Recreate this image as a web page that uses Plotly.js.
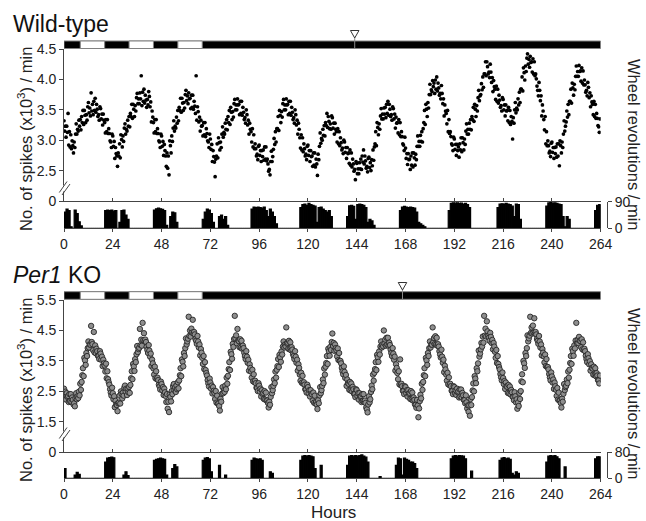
<!DOCTYPE html>
<html><head><meta charset="utf-8">
<script src="https://cdn.plot.ly/plotly-3.0.1.min.js"></script>
<style>html,body{margin:0;padding:0;background:#fff}#chart{width:646px;height:521px}</style>
</head><body><div id="chart"></div>
<script>
// ---------- data ----------
const hourTicks = [0,24,48,72,96,120,144,168,192,216,240,264];
const lightOnPeriods = [[8,20],[32,44],[56,68]];
const wtShiftHour = 143;
const koShiftHour = 166.5;

// spikes (x10^3 / min), three samples per hour (every 20 min)
const wtSpikes = [
3.32,3.15,3.23, 3.05,3.23,3.13, 3.44,2.92,3.14, 2.89,3.09,2.86,
2.99,2.91,2.79, 2.97,2.88,3.10, 3.27,3.10,3.18, 3.15,3.33,3.23,
3.34,3.17,3.39, 3.29,3.49,3.26, 3.49,3.41,3.29, 3.42,3.33,3.55,
3.62,3.45,3.53, 3.40,3.78,3.48, 3.59,3.42,3.64, 3.49,3.69,3.46,
3.59,3.51,3.39, 3.42,3.33,3.55, 3.52,3.35,3.43, 3.25,3.43,3.33,
3.29,3.12,3.34, 3.14,3.34,3.11, 3.19,3.11,2.99, 2.97,2.88,3.10,
3.07,2.90,2.98, 2.70,2.88,2.78, 2.74,2.57,2.79, 2.74,2.94,2.71,
3.09,3.01,2.89, 3.07,2.98,3.20, 3.27,3.10,3.18, 3.15,3.33,3.23,
3.39,3.22,3.44, 3.39,3.59,3.36, 3.59,3.51,3.39, 3.57,3.48,3.70,
3.77,3.60,3.68, 3.60,3.78,3.68, 4.06,3.57,3.79, 3.64,3.84,3.61,
3.74,3.66,3.54, 3.67,3.58,3.80, 3.72,3.55,3.63, 3.30,3.48,3.38,
3.29,3.12,3.34, 3.14,3.34,3.11, 3.19,3.11,2.99, 2.97,2.88,3.10,
3.07,2.90,2.98, 2.75,2.93,2.83, 2.74,2.57,2.79, 2.54,2.74,2.43,
2.99,2.91,2.79, 3.07,2.98,3.20, 3.32,3.15,3.23, 3.20,3.38,3.28,
3.49,3.32,3.54, 3.49,3.69,3.46, 3.69,3.61,3.49, 3.62,3.53,3.75,
3.82,3.65,3.73, 3.60,3.78,3.68, 3.69,3.52,3.74, 3.54,3.74,3.51,
3.64,3.56,3.44, 4.06,3.33,3.55, 3.47,3.30,3.38, 3.15,3.33,3.23,
3.24,3.07,3.29, 3.09,3.29,3.06, 3.19,3.11,2.99, 2.97,2.88,3.10,
3.02,2.85,2.93, 2.65,2.83,2.73, 2.64,2.40,2.69, 2.74,2.94,2.71,
3.04,2.96,2.84, 2.97,2.88,3.10, 3.22,3.05,3.13, 3.10,3.28,3.18,
3.34,3.17,3.39, 3.29,3.49,3.26, 3.54,3.46,3.34, 3.47,3.38,3.60,
3.67,3.50,3.58, 3.50,3.68,3.58, 3.59,3.42,3.64, 3.44,3.64,3.41,
3.54,3.46,3.34, 3.37,3.28,3.50, 3.42,3.25,3.33, 3.10,3.28,3.18,
3.14,2.97,3.19, 2.89,3.09,2.86, 2.94,2.86,2.74, 2.77,2.68,2.90,
2.92,2.75,2.83, 2.65,2.83,2.73, 2.84,2.67,2.89, 2.69,2.89,2.66,
2.69,2.61,2.49, 2.52,2.43,2.65, 2.82,2.65,2.73, 2.85,3.03,2.93,
3.14,2.97,3.19, 3.19,3.39,3.16, 3.49,3.41,3.29, 3.47,3.38,3.60,
3.67,3.50,3.58, 3.50,3.68,3.58, 3.59,3.42,3.64, 3.44,3.64,3.41,
3.54,3.46,3.34, 3.37,3.28,3.50, 3.42,3.25,3.33, 3.10,3.28,3.18,
3.04,2.87,3.09, 2.84,3.04,2.81, 2.94,2.86,2.74, 2.77,2.68,2.90,
2.92,2.75,2.83, 2.65,2.83,2.73, 2.74,2.57,2.79, 2.59,2.79,2.56,
2.69,2.61,2.42, 2.77,2.68,2.90, 3.12,2.95,3.03, 3.00,3.18,3.08,
3.24,3.07,3.29, 3.24,3.44,3.21, 3.39,3.31,3.19, 3.27,3.18,3.40,
3.37,3.20,3.28, 3.10,3.28,3.18, 3.14,2.97,3.19, 2.94,3.14,2.91,
3.04,2.96,2.84, 2.87,2.78,3.00, 2.97,2.80,2.88, 2.70,2.88,2.78,
2.79,2.62,2.84, 2.59,2.79,2.56, 2.69,2.61,2.49, 2.52,2.35,2.65,
2.62,2.45,2.53, 2.45,2.63,2.53, 2.69,2.52,2.74, 2.64,2.84,2.61,
2.74,2.66,2.54, 2.57,2.48,2.70, 2.72,2.55,2.63, 2.50,2.68,2.58,
2.84,2.67,2.89, 2.94,3.14,2.91, 3.29,3.21,3.09, 3.27,3.18,3.40,
3.52,3.35,3.43, 3.35,3.53,3.43, 3.54,3.37,3.59, 3.44,3.64,3.41,
3.59,3.51,3.39, 3.42,3.33,3.55, 3.52,3.35,3.43, 3.20,3.38,3.28,
3.29,3.12,3.34, 3.09,3.29,3.06, 3.14,3.06,2.94, 2.92,2.83,3.05,
2.87,2.70,2.78, 2.60,2.78,2.68, 2.69,2.52,2.74, 2.59,2.79,2.56,
2.79,2.71,2.59, 2.77,2.68,2.90, 3.07,2.90,2.98, 2.90,3.08,2.98,
3.14,2.97,3.19, 3.29,3.49,3.26, 3.59,3.51,3.39, 3.62,3.53,3.75,
3.92,3.75,3.83, 3.80,3.98,3.88, 3.94,3.77,3.99, 3.84,4.04,3.81,
3.94,3.86,3.74, 3.77,3.68,3.90, 3.77,3.60,3.68, 3.40,3.58,3.48,
3.44,3.27,3.49, 3.14,3.34,3.11, 3.14,3.06,2.94, 2.92,2.83,3.05,
3.02,2.85,2.93, 2.75,2.93,2.83, 2.89,2.72,2.94, 2.84,3.04,2.81,
3.04,2.96,2.84, 3.02,2.93,3.15, 3.27,3.10,3.18, 3.10,3.28,3.18,
3.34,3.17,3.39, 3.34,3.54,3.31, 3.59,3.51,3.39, 3.57,3.48,3.70,
3.82,3.65,3.73, 3.75,3.93,3.83, 4.04,3.87,4.09, 4.09,4.29,4.06,
4.29,4.21,4.09, 4.12,4.03,4.25, 4.12,3.95,4.03, 3.80,3.98,3.88,
3.84,3.67,3.89, 3.64,3.84,3.61, 3.74,3.66,3.54, 3.57,3.48,3.70,
3.67,3.50,3.58, 3.40,3.58,3.48, 3.49,3.32,3.54, 3.29,3.49,3.26,
3.39,3.31,3.02, 3.37,3.28,3.50, 3.62,3.45,3.53, 3.50,3.68,3.58,
3.79,3.62,3.84, 3.84,4.04,3.81, 4.19,4.11,3.99, 4.22,4.13,4.35,
4.42,4.25,4.33, 4.20,4.38,4.28, 4.29,4.12,4.34, 4.09,4.29,4.06,
4.09,4.01,3.89, 3.82,3.73,3.95, 3.82,3.65,3.73, 3.40,3.58,3.48,
3.34,3.17,3.39, 2.94,3.14,2.91, 2.99,2.91,2.79, 2.82,2.73,2.95,
2.97,2.80,2.88, 2.70,2.88,2.78, 2.89,2.72,2.94, 2.74,2.94,2.58,
2.99,2.91,2.79, 2.97,2.88,3.10, 3.32,3.15,3.23, 3.30,3.48,3.38,
3.59,3.42,3.64, 3.64,3.84,3.61, 3.94,3.86,3.74, 3.92,3.83,4.05,
4.22,4.05,4.13, 4.05,4.23,4.13, 4.14,3.97,4.19, 3.94,4.14,3.91,
3.99,3.91,3.79, 3.82,3.73,3.95, 3.87,3.70,3.78, 3.55,3.73,3.63,
3.59,3.42,3.64, 3.39,3.59,3.36, 3.44,3.36,3.24, 3.22,3.13,3.35
];

const koSpikes = [
2.59,2.39,2.49, 2.23,2.44,2.32, 2.35,2.15,2.41, 2.18,2.41,2.15,
2.30,2.22,2.07, 2.11,2.01,2.27, 2.44,2.24,2.34, 2.28,2.49,2.37,
2.75,2.55,2.81, 3.03,3.26,3.00, 3.60,3.52,3.37, 3.76,3.66,3.92,
4.14,3.94,4.04, 4.03,4.65,4.12, 4.05,3.85,4.45, 3.78,4.01,3.75,
3.90,3.82,3.67, 3.66,3.56,3.82, 3.74,3.54,3.64, 3.33,3.54,3.42,
3.35,3.15,3.41, 2.93,3.16,2.90, 2.80,2.72,2.57, 2.46,2.36,2.62,
2.44,2.24,2.34, 1.98,2.19,2.07, 2.05,1.85,2.11, 2.13,2.36,2.10,
2.50,2.42,2.27, 2.46,2.36,2.62, 2.69,2.49,2.59, 2.38,2.59,2.47,
2.65,2.45,2.71, 2.93,3.16,2.90, 3.40,3.32,3.17, 3.56,3.46,3.72,
3.99,3.79,3.89, 3.93,4.55,4.02, 4.20,4.00,4.75, 4.18,4.41,4.15,
4.20,4.12,3.97, 3.86,3.76,4.02, 3.84,3.64,3.74, 3.33,3.54,3.42,
3.25,3.05,3.31, 2.93,3.16,2.90, 2.95,2.87,2.72, 2.66,2.56,2.82,
2.74,2.54,2.64, 2.38,2.59,2.47, 2.35,2.15,2.41, 1.93,2.16,1.82,
2.40,2.32,2.17, 2.51,2.41,2.67, 2.74,2.54,2.64, 2.48,2.69,2.57,
2.80,2.60,2.86, 3.03,3.26,3.00, 3.55,3.47,3.32, 3.76,3.66,3.92,
4.24,4.04,4.14, 4.23,4.95,4.32, 4.50,4.30,4.56, 4.43,4.85,4.40,
4.45,4.37,4.22, 4.16,4.06,4.32, 4.14,3.94,4.04, 3.68,3.89,3.77,
3.60,3.40,3.66, 3.23,3.46,3.20, 3.10,3.02,2.87, 2.76,2.66,2.92,
2.79,2.59,2.69, 2.43,2.64,2.52, 2.45,2.25,2.51, 2.13,2.36,2.10,
2.10,2.02,1.87, 2.26,2.16,2.42, 2.64,2.44,2.54, 2.48,2.69,2.57,
2.95,2.75,3.01, 3.23,3.46,3.20, 3.80,3.72,3.57, 4.06,3.96,4.22,
4.98,4.24,4.34, 4.08,4.55,4.17, 4.15,3.95,4.21, 3.93,4.16,3.90,
4.00,3.92,3.77, 3.66,3.56,3.82, 3.64,3.44,3.54, 3.18,3.39,3.27,
3.15,2.95,3.21, 2.83,3.06,2.80, 2.85,2.77,2.62, 2.61,2.51,2.77,
2.69,2.49,2.59, 2.33,2.54,2.42, 2.45,2.25,2.51, 2.23,2.46,2.20,
2.20,2.12,1.97, 2.16,2.06,2.32, 2.64,2.44,2.54, 2.68,2.89,2.77,
3.15,2.95,3.21, 3.33,3.56,3.30, 3.70,3.62,3.47, 3.81,3.71,3.97,
4.14,3.94,4.04, 3.98,4.60,4.07, 4.10,3.90,4.16, 3.88,4.11,3.85,
3.95,3.87,3.72, 3.66,3.56,3.82, 3.64,3.44,3.54, 3.18,3.39,3.27,
3.05,2.85,3.11, 2.78,3.01,2.75, 2.80,2.72,2.57, 2.56,2.46,2.72,
2.64,2.44,2.54, 2.33,2.54,2.42, 2.40,2.20,2.46, 2.13,2.36,2.10,
2.15,2.07,1.92, 2.21,2.11,2.37, 2.64,2.44,2.54, 2.68,2.89,2.77,
3.25,3.05,3.31, 3.43,3.66,3.40, 3.90,3.82,3.67, 3.96,3.86,4.12,
4.40,3.99,4.09, 3.83,4.04,3.92, 3.85,3.65,3.91, 3.53,3.76,3.50,
3.50,3.42,3.27, 3.16,3.06,3.32, 3.14,2.94,3.04, 2.68,2.89,2.77,
2.75,2.55,2.81, 2.53,2.76,2.50, 2.65,2.57,2.42, 2.41,2.31,2.57,
2.54,2.34,2.44, 2.23,2.44,2.32, 2.35,2.15,2.41, 2.18,2.41,2.15,
2.20,2.12,1.97, 1.91,1.81,2.07, 2.34,2.14,2.24, 2.48,2.69,2.57,
3.05,2.85,3.11, 3.23,3.46,3.20, 3.70,3.62,3.47, 3.81,3.71,3.97,
4.14,3.94,4.04, 3.98,4.50,4.07, 4.20,4.00,4.26, 4.03,4.26,4.00,
4.10,4.02,3.87, 3.76,3.66,3.92, 3.74,3.54,3.64, 3.18,3.39,3.27,
3.10,2.90,3.16, 2.73,3.55,2.70, 2.75,2.67,2.52, 2.51,2.41,2.67,
2.64,2.44,2.54, 2.33,2.54,2.42, 2.45,2.25,2.51, 2.23,2.46,2.20,
2.30,2.22,2.07, 2.06,1.96,2.22, 2.04,1.65,1.94, 2.18,2.39,2.27,
2.75,2.55,2.81, 3.03,3.26,3.00, 3.60,3.52,3.37, 3.76,3.66,3.92,
4.14,3.94,4.04, 4.03,4.60,4.12, 4.25,4.05,4.31, 4.03,4.26,4.00,
4.05,3.97,3.82, 3.71,3.61,3.87, 3.64,3.44,3.54, 3.13,3.34,3.22,
3.05,2.85,3.11, 2.73,2.96,2.70, 2.75,2.67,2.52, 2.51,2.41,2.67,
2.64,2.44,2.54, 2.38,2.59,2.47, 2.50,2.30,2.56, 2.33,2.56,2.30,
2.45,2.37,2.22, 2.21,2.11,2.37, 2.14,1.94,2.04, 1.83,2.04,1.70,
2.25,2.05,2.31, 2.53,2.76,2.50, 3.00,2.92,2.77, 3.26,3.16,3.42,
3.84,3.64,3.74, 3.88,4.09,3.97, 4.30,4.10,4.98, 4.33,4.56,4.30,
4.80,4.47,4.32, 4.26,4.16,4.42, 4.29,4.09,4.19, 3.88,4.09,3.97,
3.80,3.60,3.86, 3.43,3.66,3.40, 3.30,3.22,3.07, 2.96,2.86,3.12,
2.94,2.74,2.84, 2.58,2.79,2.67, 2.65,2.45,2.71, 2.43,2.66,2.40,
2.55,2.47,2.32, 2.31,2.21,2.47, 2.34,2.14,2.24, 1.93,2.14,2.02,
2.45,2.25,2.51, 2.83,3.06,2.80, 3.50,3.42,3.27, 3.76,3.66,3.92,
4.34,4.14,4.24, 4.33,4.95,4.42, 4.60,4.40,4.66, 4.43,4.90,4.40,
4.45,4.37,4.22, 4.16,4.06,4.32, 4.14,3.94,4.04, 3.68,3.89,3.77,
3.65,3.45,3.71, 3.33,3.56,3.30, 3.30,3.22,3.07, 2.96,2.86,3.12,
2.99,2.79,2.89, 2.58,2.79,2.67, 2.55,2.35,2.61, 2.23,2.46,2.20,
2.20,2.12,1.97, 2.26,2.16,2.42, 2.74,2.54,2.64, 2.68,2.89,2.77,
3.15,2.95,3.21, 3.43,3.66,3.40, 3.90,3.82,3.67, 4.01,3.91,4.17,
4.75,4.09,4.19, 4.08,4.29,4.17, 4.15,3.95,4.21, 3.88,4.11,3.85,
3.90,3.82,3.67, 3.56,3.46,3.72, 3.59,3.39,3.49, 3.18,3.39,3.27,
3.25,3.05,3.31, 3.03,3.26,3.00, 3.10,3.02,2.87, 2.86,2.76,3.02
];

// wheel revolutions / min, hourly (one line per day)
const wtWheel = [
55,65,60,5,0,62,50,22,8,0,0,0,0,0,0,0,0,0,0,0,60,62,60,62,
58,60,0,20,60,62,45,30,0,0,0,0,0,0,0,0,0,0,0,0,62,66,68,66,
64,60,10,0,40,55,52,20,0,0,0,0,0,0,0,0,0,0,0,0,30,55,65,62,
50,20,0,0,40,45,30,40,10,0,0,0,0,0,0,0,0,0,0,0,65,72,70,72,
70,68,72,60,40,65,55,40,15,0,0,0,0,0,0,0,0,0,0,0,70,80,82,78,
84,80,78,75,20,70,72,65,60,55,60,40,0,0,0,0,0,0,0,40,76,78,74,30,
80,82,80,78,70,20,30,25,10,0,0,0,0,0,0,0,0,0,0,0,0,60,72,74,
72,70,72,70,68,55,20,15,10,5,0,0,0,0,0,0,0,0,0,0,0,60,84,86,
85,86,84,85,82,84,80,70,0,0,0,0,0,0,0,0,0,0,0,0,0,70,82,83,
82,84,82,80,75,40,82,80,30,0,0,0,0,0,0,0,0,0,0,0,0,75,86,87,
85,86,84,82,80,40,5,40,30,0,0,0,0,0,0,0,0,0,0,0,0,60,78,80
];
const koWheel = [
30,0,0,0,0,10,18,12,0,0,0,0,0,0,0,0,0,0,0,0,50,62,64,65,
63,0,0,0,0,10,20,8,0,0,0,0,0,0,0,0,0,0,0,0,55,58,60,62,
60,58,10,0,0,30,42,35,0,0,0,0,0,0,0,0,0,0,0,0,55,62,64,60,
20,0,0,0,40,0,0,10,0,0,0,0,0,0,0,0,0,0,0,0,55,62,60,58,
60,55,0,0,0,20,15,0,0,0,0,0,0,0,0,0,0,0,0,0,55,68,70,68,
70,68,66,30,0,0,40,0,0,0,0,0,0,0,0,0,0,0,0,40,68,70,68,70,
68,70,72,68,65,50,0,0,0,0,0,5,0,0,0,0,0,0,0,40,62,60,10,62,
58,55,50,50,45,30,0,0,0,0,0,0,0,0,0,0,0,0,0,0,0,0,60,68,
70,68,70,69,68,60,0,0,22,0,0,0,0,0,0,0,0,0,0,0,0,0,55,62,
64,60,62,58,15,10,20,15,0,0,0,0,0,0,0,0,0,0,0,0,0,50,68,70,
68,70,66,60,0,0,35,0,0,0,0,0,0,0,0,0,0,0,0,0,0,60,66,66
];

// ---------- helpers (pixel -> paper) ----------
const W = 646, H = 521;
const px = v => v / W;
const py = v => 1 - v / H;
const FONT = 'Liberation Sans, Arial, Helvetica, sans-serif';
const X0 = 64, X1 = 600.7;

const spikeHours = arr => arr.map((_, i) => i / 3);
const wheelHours = arr => arr.map((_, i) => i + 0.5);

const traces = [
  {type:'scatter', mode:'markers', x: spikeHours(wtSpikes), y: wtSpikes, xaxis:'x', yaxis:'y',
   marker:{size:3.7, color:'#000'}, hoverinfo:'skip'},
  {type:'bar', x: wheelHours(wtWheel), y: wtWheel, width:1, xaxis:'x2', yaxis:'y2',
   marker:{color:'#000', line:{color:'#000', width:1.2}}, hoverinfo:'skip'},
  {type:'scatter', mode:'markers', x: spikeHours(koSpikes), y: koSpikes, xaxis:'x3', yaxis:'y3',
   marker:{size:5.4, color:'#8e8e8e', line:{color:'#262626', width:0.9}}, hoverinfo:'skip'},
  {type:'bar', x: wheelHours(koWheel), y: koWheel, width:1, xaxis:'x4', yaxis:'y4',
   marker:{color:'#000', line:{color:'#000', width:1.2}}, hoverinfo:'skip'}
];

const axisCommon = {showgrid:false, zeroline:false, showline:true, linecolor:'#444', linewidth:1,
  tickcolor:'#444', tickwidth:1, tickfont:{size:14, color:'#222', family:FONT}};

function scatterX(yName){ return Object.assign({}, axisCommon, {domain:[px(X0), px(X1)], range:[0,264],
  anchor:yName, tickvals:hourTicks, ticks:'inside', ticklen:3, showticklabels:false}); }
function wheelX(yName){ return Object.assign({}, axisCommon, {domain:[px(X0), px(X1)], range:[0,264],
  anchor:yName, tickvals:hourTicks, ticks:'outside', ticklen:3, showticklabels:true}); }

const layout = {
  width:W, height:H, margin:{l:0,r:0,t:0,b:0}, showlegend:false, bargap:0,
  paper_bgcolor:'#fff', plot_bgcolor:'rgba(0,0,0,0)', font:{family:FONT, color:'#222'},
  xaxis: scatterX('y'),
  yaxis: Object.assign({}, axisCommon, {domain:[py(201), py(49)], range:[2.0,4.5], anchor:'x',
    ticks:'outside', ticklen:4, tickvals:[2.0,2.5,3.0,3.5,4.0,4.5], ticktext:['0','2.5','3.0','3.5','4.0','4.5']}),
  xaxis2: wheelX('y2'),
  yaxis2: Object.assign({}, axisCommon, {domain:[py(228.3), py(201.7)], range:[0,90], anchor:'free',
    position:px(607), side:'right', ticks:'outside', ticklen:4, tickvals:[0,90], ticktext:['0','90']}),
  xaxis3: scatterX('y3'),
  yaxis3: Object.assign({}, axisCommon, {domain:[py(452.3), py(300)], range:[0.5,5.5], anchor:'x3',
    ticks:'outside', ticklen:4, tickvals:[0.5,1.5,2.5,3.5,4.5,5.5], ticktext:['0','1.5','2.5','3.5','4.5','5.5']}),
  xaxis4: wheelX('y4'),
  yaxis4: Object.assign({}, axisCommon, {domain:[py(478.3), py(452.3)], range:[0,80], anchor:'free',
    position:px(607), side:'right', ticks:'outside', ticklen:4, tickvals:[0,80], ticktext:['0','80']}),
  shapes: [], annotations: []
};

function ldBar(xref, yTop, yBot){
  layout.shapes.push({type:'rect', xref:xref, yref:'paper', x0:0, x1:264, y0:py(yBot), y1:py(yTop),
    fillcolor:'#000', line:{color:'#808080', width:1}});
  lightOnPeriods.forEach(p => layout.shapes.push({type:'rect', xref:xref, yref:'paper', x0:p[0], x1:p[1],
    y0:py(yBot), y1:py(yTop), fillcolor:'#fff', line:{color:'#808080', width:1}}));
}
function shiftMark(xref, h, triTop, triBot, barBot){
  layout.shapes.push({type:'line', xref:xref, yref:'paper', x0:h, x1:h, y0:py(barBot), y1:py(triBot),
    line:{color:'#8a8a8a', width:1}});
  layout.shapes.push({type:'path', xref:xref, yref:'paper',
    path:`M ${h-2.1},${py(triTop)} L ${h+2.1},${py(triTop)} L ${h},${py(triBot)} Z`,
    fillcolor:'#fff', line:{color:'#333', width:1}});
}
function axisBreak(yA){ // yA: pixel y of upper end of gap
  layout.shapes.push({type:'rect', xref:'paper', yref:'paper', x0:px(61.5), x1:px(66.5),
    y0:py(yA+6), y1:py(yA), fillcolor:'#fff', line:{width:0}});
  layout.shapes.push({type:'line', xref:'paper', yref:'paper', x0:px(59.3), y0:py(yA+7), x1:px(67), y1:py(yA-4),
    line:{color:'#444', width:1}});
  layout.shapes.push({type:'line', xref:'paper', yref:'paper', x0:px(62), y0:py(yA+9.5), x1:px(70), y1:py(yA-1.5),
    line:{color:'#444', width:1}});
}
ldBar('x', 41, 48.5);
shiftMark('x', wtShiftHour, 30.5, 38, 48.5);
ldBar('x3', 291.7, 299.3);
shiftMark('x3', koShiftHour, 282.5, 290, 299.3);
axisBreak(185.5);
axisBreak(431.5);

const ann = (o) => layout.annotations.push(Object.assign({xref:'paper', yref:'paper', showarrow:false,
  font:{family:FONT, size:16.5, color:'#222'}}, o));
ann({text:'Wild-type', x:px(11), y:py(24), xanchor:'left', yanchor:'middle', font:{family:FONT, size:23, color:'#111'}});
ann({text:'<i>Per1</i> KO', x:px(11), y:py(275), xanchor:'left', yanchor:'middle', font:{family:FONT, size:23, color:'#111'}});
ann({text:'No. of spikes (x10<sup>3</sup>) / min', textangle:-90, x:px(25), y:py(139), xanchor:'center', yanchor:'middle'});
ann({text:'No. of spikes (x10<sup>3</sup>) / min', textangle:-90, x:px(25), y:py(390), xanchor:'center', yanchor:'middle'});
ann({text:'Wheel revolutions / min', textangle:90, x:px(634), y:py(145), xanchor:'center', yanchor:'middle'});
ann({text:'Wheel revolutions / min', textangle:90, x:px(634), y:py(394), xanchor:'center', yanchor:'middle'});
ann({text:'Hours', x:px(333), y:py(512), xanchor:'center', yanchor:'middle', font:{family:FONT, size:17, color:'#222'}});

if (wtSpikes.length !== 792 || koSpikes.length !== 792 || wtWheel.length !== 264 || koWheel.length !== 264) {
  ann({text:'LEN ' + [wtSpikes.length, koSpikes.length, wtWheel.length, koWheel.length].join(','), x:0.5, y:0.5,
    font:{size:20, color:'red'}});
}

Plotly.newPlot('chart', traces, layout, {staticPlot:true, displayModeBar:false});
</script>
</body></html>
